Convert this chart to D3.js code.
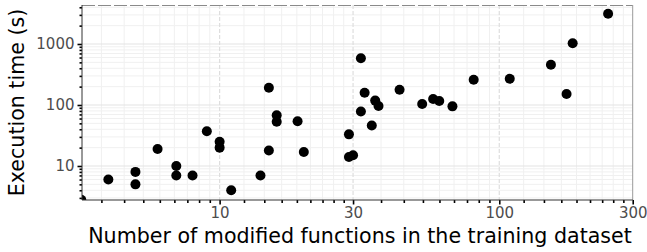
<!DOCTYPE html>
<html>
<head>
<meta charset="utf-8">
<script src="https://cdn.jsdelivr.net/npm/d3@7/dist/d3.min.js"></script>
<style>
  body { margin: 0; background: #fff; }
  svg { display: block; font-family: "DejaVu Sans", sans-serif; }
</style>
</head>
<body>
<div id="chart"></div>
<script>
// number of modified functions in the training dataset
const nFunctions = [3.2, 4, 5, 5, 6, 7, 7, 8, 9, 10, 10, 11, 14, 15, 15, 16, 16, 19, 20,
  29, 29, 30, 32, 32, 33, 35, 36, 37, 44, 53, 58, 61, 68, 81, 109, 153, 174, 183, 245];
// execution time in seconds
const execTime = [2.8, 6, 8, 5, 19, 10, 7, 7, 37, 25, 20, 4, 7, 192, 18, 68, 53, 54, 17,
  33, 14, 15, 583, 78, 159, 46, 118, 96, 178, 104, 125, 116, 95, 260, 270, 458, 151, 1026, 3140];

const xBreaks = [3, 10, 30, 100, 300];
const xLabels = ["10", "30", "100", "300"];
const yBreaks = [10, 100, 1000];
const yLabels = ["10", "100", "1000"];

const width = 647, height = 252;
const pLeft = 82, pRight = 632.7, pTop = 5, pBottom = 200;

const svg = d3.select("#chart").append("svg")
  .attr("width", width).attr("height", height);

const x = d3.scaleLog().domain([3.22, 300]).range([pLeft, pRight]);
const y = d3.scaleLog().domain([2.77, 4357]).range([pBottom, pTop]);

// minor x positions: each interval between breaks cut in 9 equal parts
let xMinor = [];
for (let i = 0; i < xBreaks.length - 1; i++) {
  const a = xBreaks[i], b = xBreaks[i + 1];
  for (let k = 1; k < 9; k++) xMinor.push(a + (b - a) * k / 9);
}
xMinor = xMinor.filter(v => v > 3.22 && v < 300);
const xMajor = xBreaks.filter(v => v >= 10);

// minor y positions: usual log ticks
let yMinor = [];
for (let p = 1; p <= 1000; p *= 10) {
  for (let k = 2; k <= 9; k++) yMinor.push(k * p);
}
yMinor = yMinor.filter(v => v > 2.77 && v < 4357);

const grid = svg.append("g");
grid.selectAll(".vmin").data(xMinor).join("line")
  .attr("x1", d => x(d)).attr("x2", d => x(d)).attr("y1", pTop).attr("y2", pBottom)
  .attr("stroke", "#f0f0f0").attr("stroke-width", 1);
grid.selectAll(".hmin").data(yMinor).join("line")
  .attr("x1", pLeft).attr("x2", pRight).attr("y1", d => y(d)).attr("y2", d => y(d))
  .attr("stroke", "#f0f0f0").attr("stroke-width", 1);
grid.selectAll(".hmaj").data(yBreaks).join("line")
  .attr("x1", pLeft).attr("x2", pRight).attr("y1", d => y(d)).attr("y2", d => y(d))
  .attr("stroke", "#e3e3e3").attr("stroke-width", 1.2);
grid.selectAll(".vmaj").data(xMajor.filter(v => v < 300)).join("line")
  .attr("x1", d => x(d)).attr("x2", d => x(d)).attr("y1", pTop).attr("y2", pBottom)
  .attr("stroke", "#dedede").attr("stroke-width", 1.2).attr("stroke-dasharray", "4,2");

// border: dashed top, grey right
svg.append("line").attr("x1", pLeft).attr("x2", pRight).attr("y1", pTop + 0.5).attr("y2", pTop + 0.5)
  .attr("stroke", "#8a8a8a").attr("stroke-width", 1).attr("stroke-dasharray", "13,3");
svg.append("line").attr("x1", pRight).attr("x2", pRight).attr("y1", pTop).attr("y2", pBottom)
  .attr("stroke", "#9a9a9a").attr("stroke-width", 1);

// points, clipped to the panel
svg.append("clipPath").attr("id", "panel").append("rect")
  .attr("x", pLeft).attr("y", pTop).attr("width", pRight - pLeft).attr("height", pBottom - pTop);
svg.append("g").attr("clip-path", "url(#panel)")
  .selectAll("circle").data(nFunctions).join("circle")
  .attr("cx", d => x(d)).attr("cy", (d, i) => y(execTime[i]))
  .attr("r", 5).attr("fill", "#000");

// axes
const xAxisMinor = d3.axisBottom(x).tickValues(xMinor).tickSize(3).tickFormat("");
const xAxisMajor = d3.axisBottom(x).tickValues(xMajor).tickSize(4.5)
  .tickFormat((d, i) => xLabels[i]).tickPadding(3);
const yAxisMinor = d3.axisLeft(y).tickValues(yMinor).tickSize(2.5).tickFormat("");
const yAxisMajor = d3.axisLeft(y).tickValues(yBreaks).tickSize(4.5)
  .tickFormat((d, i) => yLabels[i]).tickPadding(3);

function styleAxis(g) {
  g.select(".domain").remove();
  g.selectAll(".tick line").attr("stroke", "#000").attr("stroke-width", 1.6);
  g.selectAll("text").attr("fill", "#4d4d4d").style("font-size", "15px")
    .style("font-family", "DejaVu Sans");
}

svg.append("g").attr("transform", `translate(0,${pBottom})`).call(xAxisMinor).call(styleAxis);
svg.append("g").attr("transform", `translate(0,${pBottom})`).call(xAxisMajor).call(styleAxis);
svg.append("g").attr("transform", `translate(${pLeft},0)`).call(yAxisMinor).call(styleAxis);
svg.append("g").attr("transform", `translate(${pLeft},0)`).call(yAxisMajor).call(styleAxis);

// axis lines
svg.append("line").attr("x1", pLeft).attr("x2", pLeft).attr("y1", pTop).attr("y2", pBottom)
  .attr("stroke", "#333").attr("stroke-width", 1);
svg.append("line").attr("x1", pLeft).attr("x2", pRight).attr("y1", pBottom).attr("y2", pBottom)
  .attr("stroke", "#333").attr("stroke-width", 1);

// titles
svg.append("text").attr("x", 360).attr("y", 243)
  .attr("text-anchor", "middle").style("font-size", "20.6px").attr("fill", "#000")
  .text("Number of modified functions in the training dataset");
svg.append("text").attr("transform", `translate(23.5,${(pTop + pBottom) / 2}) rotate(-90)`)
  .attr("text-anchor", "middle").style("font-size", "20.6px").attr("fill", "#000")
  .text("Execution time (s)");
</script>
</body>
</html>
